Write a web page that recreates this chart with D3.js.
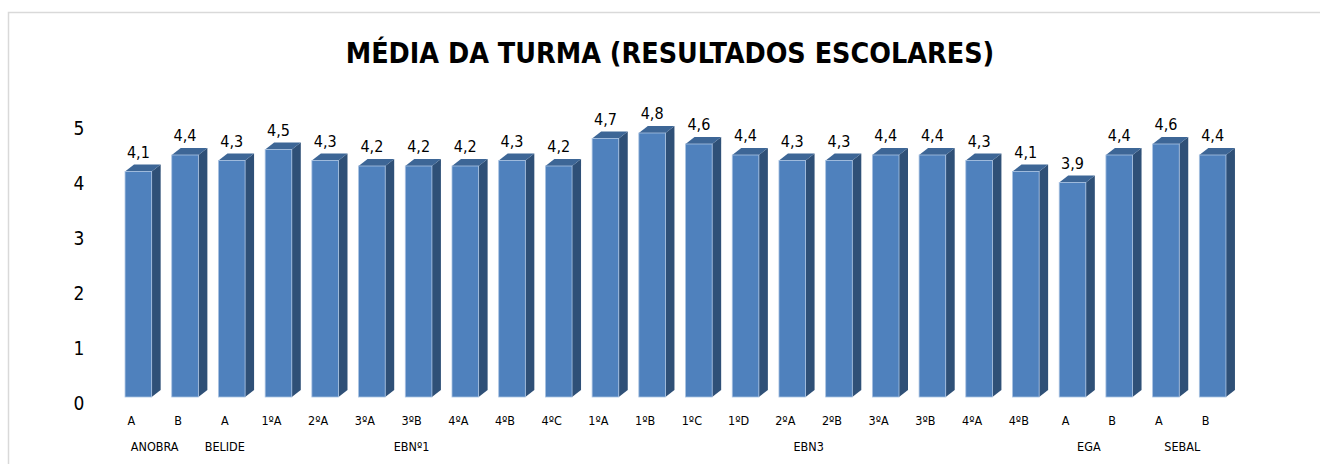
<!DOCTYPE html>
<html>
<head>
<meta charset="utf-8">
<script src="https://cdn.jsdelivr.net/npm/d3@7"></script>
<style>
  body { margin: 0; background: #fff; }
  svg { display: block; font-family: "DejaVu Sans Condensed", "DejaVu Sans", sans-serif; }
</style>
</head>
<body>
<script>
const title = 'MÉDIA DA TURMA (RESULTADOS ESCOLARES)'

const classes = ['A', 'B', 'A', '1ºA', '2ºA', '3ºA', '3ºB', '4ºA', '4ºB', '4ºC',
  '1ºA', '1ºB', '1ºC', '1ºD', '2ºA', '2ºB', '3ºA', '3ºB', '4ºA', '4ºB', 'A', 'B', 'A', 'B']

const schools = ['ANOBRA', 'ANOBRA', 'BELIDE', 'EBNº1', 'EBNº1', 'EBNº1', 'EBNº1', 'EBNº1', 'EBNº1', 'EBNº1',
  'EBN3', 'EBN3', 'EBN3', 'EBN3', 'EBN3', 'EBN3', 'EBN3', 'EBN3', 'EBN3', 'EBN3', 'EGA', 'EGA', 'SEBAL', 'SEBAL']

const averages = [4.1, 4.4, 4.3, 4.5, 4.3, 4.2, 4.2, 4.2, 4.3, 4.2,
  4.7, 4.8, 4.6, 4.4, 4.3, 4.3, 4.4, 4.4, 4.3, 4.1, 3.9, 4.4, 4.6, 4.4]

const yTicks = [0, 1, 2, 3, 4, 5]

let width = 1320
let height = 464
let depth = { dx: 9, dy: 7 }

const svg = d3.select('body')
  .append('svg')
  .attr('width', width)
  .attr('height', height)

// chart area border
svg.append('rect')
  .attr('x', 8.5)
  .attr('y', 12.5)
  .attr('width', width)
  .attr('height', height)
  .style('fill', 'none')
  .style('stroke', '#d9d9d9')
  .style('stroke-width', 1.5)

// title, stretched to the width it has in the reference
const titleText = svg.append('text')
  .attr('x', 670)
  .attr('y', 53)
  .attr('text-anchor', 'middle')
  .attr('dominant-baseline', 'central')
  .style('font-weight', 'bold')
  .style('font-size', '28px')
  .style('fill', '#000')
  .text(title)
const tw = titleText.node().getComputedTextLength()
titleText.style('font-size', (28 * 649 / tw) + 'px')

const idx = d3.range(averages.length)

const x = d3.scaleBand()
  .domain(idx)
  .range([115, 1236])
  .paddingInner(0.43)
  .paddingOuter(0.215)

const y = d3.scaleLinear()
  .domain([0, 5])
  .range([397, 122])

const yAxisScale = y.copy().range([403, 128])

// y labels
svg.selectAll('.ylab')
  .data(yTicks)
  .join('text')
  .attr('class', 'ylab')
  .attr('x', 79)
  .attr('y', d => yAxisScale(d))
  .attr('text-anchor', 'middle')
  .attr('dominant-baseline', 'central')
  .style('font-size', '19px')
  .text(d => d)

const bw = x.bandwidth()

const bars = svg.selectAll('.bar')
  .data(idx)
  .join('g')
  .attr('class', 'bar')

// right side
bars.append('path')
  .attr('d', i => {
    const x1 = x(i) + bw, yt = y(averages[i]), yb = y(0)
    return `M${x1},${yt} L${x1 + depth.dx},${yt - depth.dy} L${x1 + depth.dx},${yb - depth.dy} L${x1},${yb} Z`
  })
  .style('fill', '#2f5077')

// top
bars.append('path')
  .attr('d', i => {
    const x0 = x(i), yt = y(averages[i])
    return `M${x0},${yt} L${x0 + depth.dx},${yt - depth.dy} L${x0 + bw + depth.dx},${yt - depth.dy} L${x0 + bw},${yt} Z`
  })
  .style('fill', '#3d6696')

// front
bars.append('rect')
  .attr('x', i => x(i))
  .attr('y', i => y(averages[i]))
  .attr('width', bw)
  .attr('height', i => y(0) - y(averages[i]))
  .style('fill', '#4f81bd')
  .style('stroke', '#a9c2e2')
  .style('stroke-width', 0.8)

// value labels
svg.selectAll('.vlab')
  .data(idx)
  .join('text')
  .attr('class', 'vlab')
  .attr('x', i => x(i) + bw / 2)
  .attr('y', i => y(averages[i]) - 19.5)
  .attr('text-anchor', 'middle')
  .attr('dominant-baseline', 'central')
  .style('font-size', '16px')
  .text(i => String(averages[i]).replace('.', ','))

// category labels
const tickX = i => x(i) + bw / 2 - 7

svg.selectAll('.xlab')
  .data(idx)
  .join('text')
  .attr('class', 'xlab')
  .attr('x', tickX)
  .attr('y', 420)
  .attr('text-anchor', 'middle')
  .attr('dominant-baseline', 'central')
  .style('font-size', '12.5px')
  .text(i => classes[i])

// school group labels
const groups = d3.groups(idx, i => schools[i])

svg.selectAll('.glab')
  .data(groups)
  .join('text')
  .attr('class', 'glab')
  .attr('x', d => d3.mean(d[1], tickX))
  .attr('y', 446)
  .attr('text-anchor', 'middle')
  .attr('dominant-baseline', 'central')
  .style('font-size', '12.5px')
  .text(d => d[0])
</script>
</body>
</html>
